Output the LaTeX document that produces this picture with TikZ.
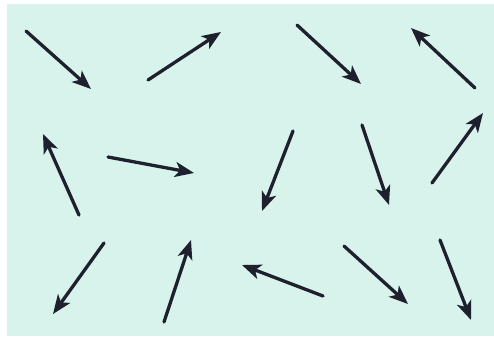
\documentclass[tikz,border=0pt]{standalone}
\usetikzlibrary{arrows.meta}
\definecolor{bgcyan}{RGB}{216,243,236}
\definecolor{arrowink}{RGB}{30,32,46}
\begin{document}
\begin{tikzpicture}[x=1pt,y=-1pt,
  vec/.style={draw=arrowink, line width=3.3pt, line cap=round,
    -{Stealth[length=19pt,width=15pt,inset=5pt]}}]
\useasboundingbox (0,0) rectangle (494,338);
\fill[white] (0,0) rectangle (494,338);
\fill[bgcyan] (7,4) rectangle (494,336);
% row 1
\coordinate (a1) at (26,31);  \coordinate (b1) at (91,89);
\coordinate (a2) at (148,80); \coordinate (b2) at (221,32);
\coordinate (a3) at (297,25); \coordinate (b3) at (361,84);
\coordinate (a4) at (475,88); \coordinate (b4) at (411,28);
% row 2
\coordinate (a5) at (79,215); \coordinate (b5) at (43,134);
\coordinate (a6) at (108,157); \coordinate (b6) at (194,173);
\coordinate (a7) at (293,131); \coordinate (b7) at (262,211);
\coordinate (a8) at (362,125); \coordinate (b8) at (389,205);
\coordinate (a9) at (432,183); \coordinate (b9) at (483,113);
% row 3
\coordinate (a10) at (104,243); \coordinate (b10) at (53,314);
\coordinate (a11) at (164,322); \coordinate (b11) at (191,240);
\coordinate (a12) at (323,296); \coordinate (b12) at (242,265);
\coordinate (a13) at (344,246); \coordinate (b13) at (408,304);
\coordinate (a14) at (440,240); \coordinate (b14) at (471,320);
\foreach \i in {1,...,14} { \draw[vec] (a\i) -- (b\i); }
\end{tikzpicture}
\end{document}
